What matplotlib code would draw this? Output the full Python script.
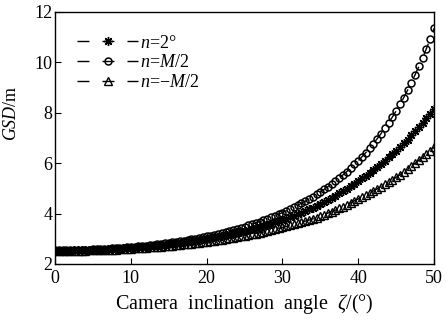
import matplotlib
matplotlib.use("Agg")
import matplotlib.pyplot as plt
import numpy as np

plt.rcParams["font.family"] = ["Liberation Serif", "DejaVu Serif"]
plt.rcParams["mathtext.fontset"] = "custom"
plt.rcParams["mathtext.rm"] = "Liberation Serif"
plt.rcParams["mathtext.it"] = "Liberation Serif:italic"

# camera inclination angle, degrees (0.5 deg steps)
angle = np.arange(0, 50.01, 0.5)

# GSD for n = 2 deg
gsd_star = [
    2.53, 2.53, 2.53, 2.53, 2.53, 2.54, 2.54, 2.54, 2.55, 2.55,
    2.56, 2.56, 2.57, 2.57, 2.58, 2.59, 2.60, 2.61, 2.62, 2.63,
    2.64, 2.65, 2.66, 2.68, 2.69, 2.70, 2.72, 2.73, 2.75, 2.77,
    2.79, 2.80, 2.82, 2.84, 2.87, 2.89, 2.91, 2.93, 2.96, 2.98,
    3.01, 3.03, 3.06, 3.09, 3.12, 3.15, 3.18, 3.21, 3.25, 3.28,
    3.32, 3.35, 3.39, 3.43, 3.47, 3.51, 3.56, 3.60, 3.65, 3.70,
    3.75, 3.80, 3.86, 3.92, 3.98, 4.04, 4.10, 4.17, 4.24, 4.31,
    4.38, 4.46, 4.54, 4.62, 4.71, 4.80, 4.90, 4.99, 5.09, 5.19,
    5.30, 5.40, 5.51, 5.62, 5.73, 5.85, 5.97, 6.10, 6.23, 6.36,
    6.50, 6.64, 6.79, 6.94, 7.10, 7.26, 7.43, 7.60, 7.78, 7.96,
    8.15,
]

# GSD for n = M/2
gsd_circle = [
    2.55, 2.55, 2.55, 2.55, 2.56, 2.56, 2.56, 2.57, 2.57, 2.57,
    2.58, 2.59, 2.59, 2.60, 2.61, 2.62, 2.63, 2.64, 2.65, 2.66,
    2.67, 2.69, 2.70, 2.72, 2.73, 2.75, 2.77, 2.78, 2.80, 2.82,
    2.84, 2.86, 2.89, 2.91, 2.93, 2.96, 2.98, 3.01, 3.04, 3.07,
    3.10, 3.13, 3.17, 3.20, 3.24, 3.27, 3.31, 3.35, 3.39, 3.43,
    3.48, 3.53, 3.58, 3.63, 3.68, 3.73, 3.79, 3.85, 3.91, 3.97,
    4.04, 4.11, 4.18, 4.25, 4.33, 4.41, 4.49, 4.58, 4.67, 4.76,
    4.86, 4.96, 5.07, 5.18, 5.29, 5.41, 5.54, 5.67, 5.81, 5.95,
    6.10, 6.26, 6.42, 6.60, 6.78, 6.97, 7.17, 7.38, 7.60, 7.83,
    8.07, 8.33, 8.60, 8.89, 9.19, 9.51, 9.84, 10.19, 10.55, 10.94,
    11.35,
]

# GSD for n = -M/2
gsd_tri = [
    2.52, 2.52, 2.52, 2.52, 2.52, 2.53, 2.53, 2.53, 2.53, 2.54,
    2.54, 2.55, 2.55, 2.56, 2.56, 2.57, 2.57, 2.58, 2.59, 2.60,
    2.61, 2.62, 2.62, 2.63, 2.64, 2.66, 2.67, 2.68, 2.69, 2.70,
    2.72, 2.73, 2.75, 2.76, 2.78, 2.79, 2.81, 2.83, 2.85, 2.87,
    2.89, 2.91, 2.93, 2.95, 2.97, 2.99, 3.02, 3.04, 3.07, 3.10,
    3.12, 3.15, 3.18, 3.21, 3.24, 3.27, 3.31, 3.34, 3.38, 3.41,
    3.45, 3.49, 3.53, 3.57, 3.61, 3.65, 3.70, 3.74, 3.79, 3.84,
    3.90, 3.96, 4.02, 4.08, 4.14, 4.21, 4.28, 4.35, 4.43, 4.51,
    4.58, 4.66, 4.74, 4.82, 4.90, 4.98, 5.07, 5.16, 5.25, 5.34,
    5.44, 5.54, 5.65, 5.76, 5.87, 5.99, 6.11, 6.24, 6.37, 6.50,
    6.63,
]

fig = plt.figure(figsize=(4.47, 3.2), dpi=100)
ax = fig.add_axes([0.123, 0.175, 0.848, 0.7875])

dash = (0, (8.6, 9.4))
# MATLAB-style asterisk marker
ax.plot(angle, gsd_star, ls=dash, color="black", lw=1.0, marker=(8, 2, 0), ms=6.5,
        mec="black", mew=1.0, label=r"$n$=2°")
ax.plot(angle, gsd_circle, ls=dash, color="black", lw=1.0, marker="o", ms=5,
        mfc="none", mec="black", mew=1.1, label=r"$n$=$M$/2")
ax.plot(angle, gsd_tri, ls=dash, color="black", lw=1.0, marker="^", ms=5.5,
        mfc="none", mec="black", mew=1.0, label=r"$n$=−$M$/2")

ax.set_xlim(0, 50)
ax.set_ylim(2, 12)
ax.set_xticks([0, 10, 20, 30, 40, 50])
ax.set_yticks([2, 4, 6, 8, 10, 12])
ax.tick_params(direction="in", length=4, width=0.8, labelsize=13,
               top=False, right=False)
ax.tick_params(axis="x", pad=4)
ax.tick_params(axis="y", pad=2)
for s in ax.spines.values():
    s.set_linewidth(1.0)

ax.set_xlabel("Camera  inclination  angle  $\\zeta$/(°)", fontsize=14.5, labelpad=4)
ax.set_ylabel("$GSD$/m", fontsize=13)
ax.yaxis.set_label_coords(-0.092, 0.60)

ax.legend(loc="upper left", frameon=False, fontsize=13, handlelength=3.4,
          handletextpad=0.1, labelspacing=0.15, borderaxespad=0.3,
          bbox_to_anchor=(0.025, 0.96))

fig.savefig("out.png", dpi=100)
